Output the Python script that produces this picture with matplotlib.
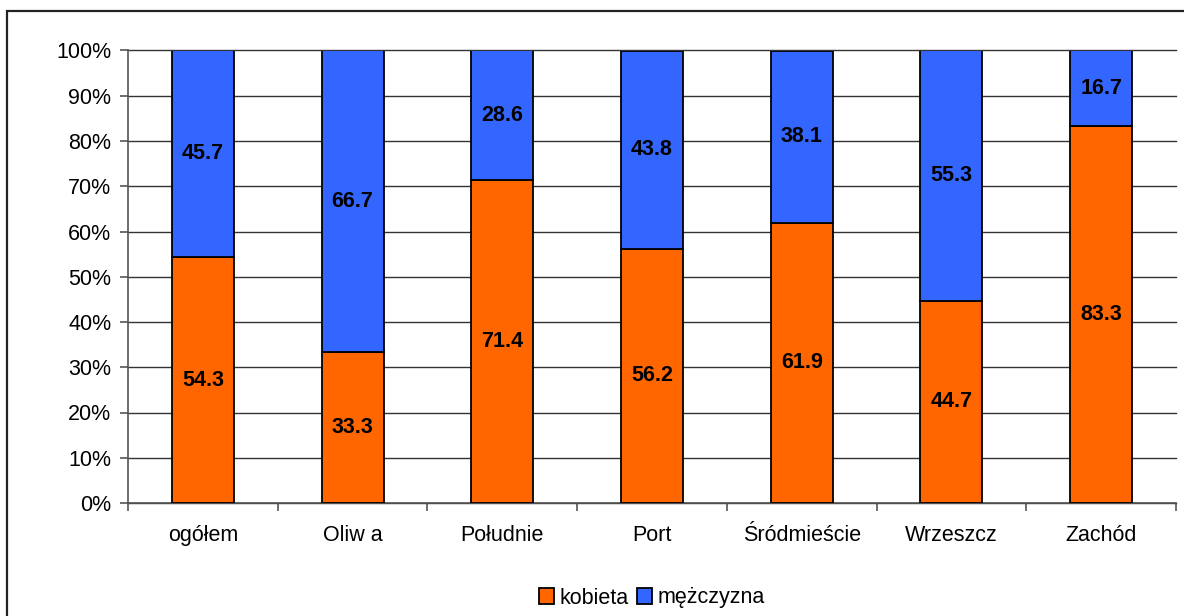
import matplotlib
matplotlib.use("Agg")
import matplotlib.pyplot as plt
from matplotlib.patches import Rectangle
import numpy as np

plt.rcParams["font.family"] = ["Liberation Sans", "DejaVu Sans"]

# udział kobiet / mężczyzn w dzielnicach (%)
districts = ["ogółem", "Oliw a", "Południe", "Port", "Śródmieście", "Wrzeszcz", "Zachód"]
kobieta = [54.3, 33.3, 71.4, 56.2, 61.9, 44.7, 83.3]
mezczyzna = [45.7, 66.7, 28.6, 43.8, 38.1, 55.3, 16.7]

c_kob = "#FF6600"
c_mez = "#3366FF"
fs = 15.5

W, H = 1184, 616
fig = plt.figure(figsize=(W / 100, H / 100), dpi=100)
ax = fig.add_axes([128 / W, 1 - 503 / H, 1048 / W, 452.5 / H])

# ramka wokół całego wykresu
fig.patches.append(Rectangle((7 / W, -0.2), 1.2, 1.2 - 11 / H, transform=fig.transFigure,
                             fill=False, edgecolor="#222222", lw=1.6))

x = np.arange(len(districts))
kob = np.array(kobieta)
mez = np.array(mezczyzna)
tot = kob + mez
kob_pct = kob / tot * 100
mez_pct = mez / tot * 100

bw = 0.415
ax.bar(x, kob_pct, bw, color=c_kob, edgecolor="black", lw=1.3, label="kobieta", zorder=3)
ax.bar(x, mez_pct, bw, bottom=kob_pct, color=c_mez, edgecolor="black", lw=1.3,
       label="mężczyzna", zorder=3)

for i in range(len(x)):
    ax.text(x[i], kob_pct[i] / 2, f"{kobieta[i]:.1f}", ha="center", va="center",
            fontsize=fs, fontweight="bold", zorder=4)
    ax.text(x[i], kob_pct[i] + mez_pct[i] / 2, f"{mezczyzna[i]:.1f}", ha="center",
            va="center", fontsize=fs, fontweight="bold", zorder=4)

ax.set_xlim(-0.5, len(x) - 0.5)
ax.set_ylim(0, 100)
ax.set_yticks(np.arange(0, 101, 10))
ax.set_yticklabels([f"{v}%" for v in range(0, 101, 10)], fontsize=fs)
ax.yaxis.grid(True, color="#333333", lw=1.0, zorder=0)
for gl in ax.get_ygridlines():
    gl.set_clip_on(False)
ax.set_axisbelow(True)

ax.set_xticks(x)
ax.set_xticklabels(districts, fontsize=fs)
ax.tick_params(axis="x", length=0, pad=16)
ax.set_xticks(np.arange(-0.5, len(x)), minor=True)
ax.tick_params(axis="x", which="minor", length=6, color="#555555", width=1.2)
ax.tick_params(axis="y", length=6, color="#555555", width=1.2, pad=6)

for s in ["top", "right"]:
    ax.spines[s].set_visible(False)
ax.spines["left"].set_color("#555555")
ax.spines["bottom"].set_color("#555555")
ax.spines["left"].set_linewidth(1.2)
ax.spines["bottom"].set_linewidth(1.2)

ax.legend(loc="center", bbox_to_anchor=(652 / W, 1 - 598 / H), bbox_transform=fig.transFigure,
          ncol=2, frameon=False, fontsize=fs, handlelength=0.7, handleheight=0.7,
          handletextpad=0.25, columnspacing=0.4)

fig.savefig("out.png", dpi=100)
